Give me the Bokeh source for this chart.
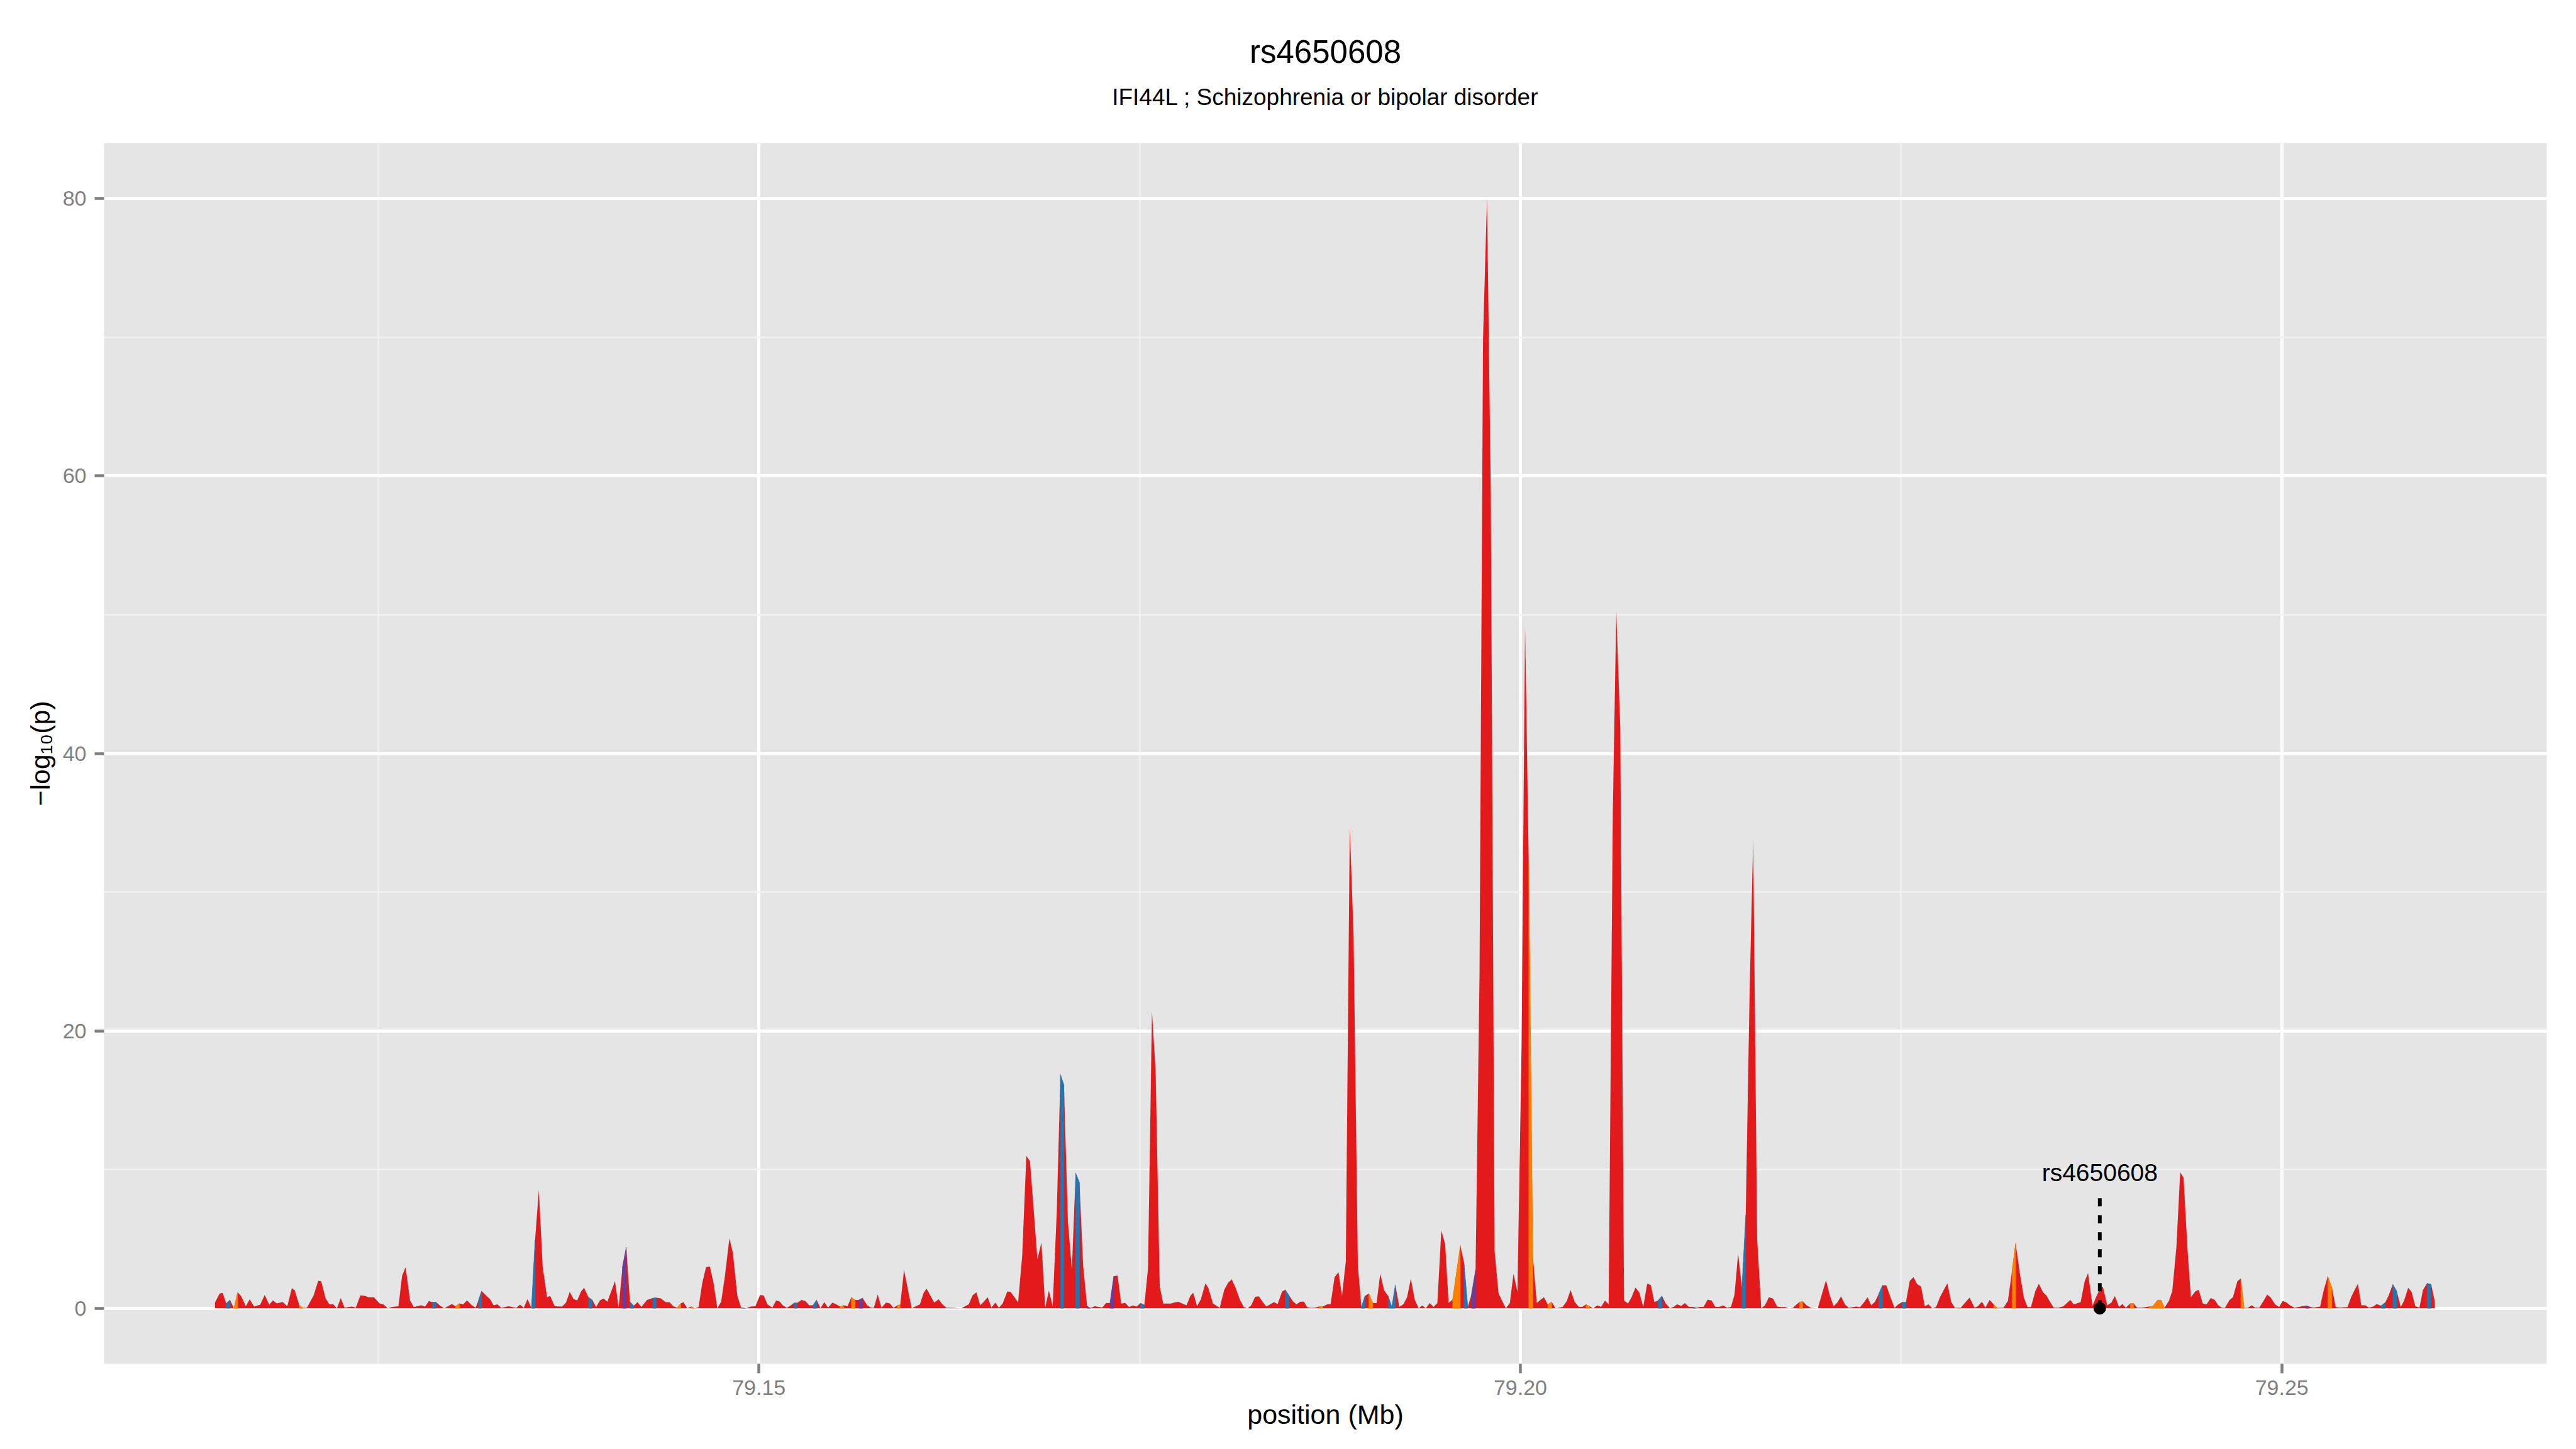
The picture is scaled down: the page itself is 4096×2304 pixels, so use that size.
from bokeh.plotting import figure
from bokeh.models import (Range1d, FixedTicker, Label, ColumnDataSource, PrintfTickFormatter,
                          LinearAxis)
from bokeh.embed import file_html
from bokeh.resources import INLINE

# ---------------- data ----------------
title_text = "rs4650608"
subtitle_text = "IFI44L ; Schizophrenia or bipolar disorder"
x_label = "position (Mb)"
y_label = "\u2212log\u2081\u2080(p)"

x_ticks = [79.15, 79.20, 79.25]
x_minor = [79.125, 79.175, 79.225]
y_ticks = [0, 20, 40, 60, 80]
y_minor = [10, 30, 50, 70]

# SNP positions (Mb)
pos = [
    79.11428, 79.11458, 79.11478, 79.11502, 79.11527, 79.11552, 79.11577, 79.11601, 79.11631, 79.11656,
    79.11685, 79.11725, 79.11755, 79.11784, 79.11809, 79.11834, 79.11873, 79.11903, 79.11933, 79.11952,
    79.11982, 79.12007, 79.12032, 79.12076, 79.12106, 79.12126, 79.12155, 79.12180, 79.12205, 79.12229,
    79.12254, 79.12279, 79.12328, 79.12353, 79.12383, 79.12412, 79.12437, 79.12472, 79.12509, 79.12534,
    79.12563, 79.12588, 79.12633, 79.12657, 79.12680, 79.12709, 79.12734, 79.12783, 79.12808, 79.12833,
    79.12855, 79.12880, 79.12907, 79.12934, 79.12984, 79.13008, 79.13033, 79.13058, 79.13083, 79.13115,
    79.13140, 79.13159, 79.13179, 79.13214, 79.13234, 79.13258, 79.13283, 79.13308, 79.13357, 79.13407,
    79.13431, 79.13456, 79.13481, 79.13506, 79.13530, 79.13555, 79.13580, 79.13609, 79.13629, 79.13659,
    79.13708, 79.13733, 79.13758, 79.13782, 79.13807, 79.13832, 79.13852, 79.13881, 79.13906, 79.13931,
    79.13956, 79.13980, 79.14005, 79.14055, 79.14079, 79.14104, 79.14129, 79.14153, 79.14178, 79.14203,
    79.14228, 79.14265, 79.14302, 79.14327, 79.14356, 79.14388, 79.14413, 79.14438, 79.14463, 79.14487,
    79.14505, 79.14529, 79.14554, 79.14579, 79.14604, 79.14628, 79.14653, 79.14678, 79.14702, 79.14727,
    79.14752, 79.14777, 79.14806, 79.14829, 79.14858, 79.14883, 79.14915, 79.14945, 79.14977, 79.15007,
    79.15031, 79.15056, 79.15088, 79.15113,
    79.15137, 79.15157, 79.15182, 79.15206, 79.15231, 79.15251, 79.15280, 79.15305, 79.15330, 79.15355,
    79.15379, 79.15404, 79.15429, 79.15454, 79.15483, 79.15508, 79.15533, 79.15557, 79.15582, 79.15607,
    79.15632, 79.15656, 79.15681, 79.15711, 79.15735, 79.15755, 79.15780, 79.15805, 79.15834, 79.15859,
    79.15884, 79.15909, 79.15928, 79.15953, 79.16003, 79.16057, 79.16082, 79.16101, 79.16151, 79.16180,
    79.16205, 79.16230, 79.16279, 79.16329, 79.16378, 79.16403, 79.16428, 79.16453, 79.16477, 79.16502,
    79.16527, 79.16552, 79.16576, 79.16601, 79.16631,
    79.16653, 79.16702, 79.16729, 79.16756, 79.16780, 79.16829, 79.16855, 79.16880, 79.16904, 79.16929,
    79.16956, 79.16980, 79.17003, 79.17029, 79.17055, 79.17080, 79.17105, 79.17129, 79.17155, 79.17178,
    79.17205, 79.17255, 79.17280, 79.17305, 79.17330, 79.17355, 79.17379, 79.17405, 79.17431, 79.17455,
    79.17481, 79.17505, 79.17531, 79.17555, 79.17581, 79.17605, 79.17632, 79.17655, 79.17705, 79.17731,
    79.17755, 79.17781,
    79.17808, 79.17833, 79.17852, 79.17877, 79.17902, 79.17932, 79.17951, 79.17981, 79.18026, 79.18055,
    79.18080, 79.18105, 79.18129, 79.18159, 79.18184, 79.18209, 79.18233, 79.18258, 79.18283, 79.18307,
    79.18332, 79.18357, 79.18382, 79.18406, 79.18436, 79.18456, 79.18481, 79.18505, 79.18530, 79.18555,
    79.18579, 79.18599, 79.18624, 79.18650,
    79.18680, 79.18703, 79.18733, 79.18754, 79.18780, 79.18806, 79.18829, 79.18854, 79.18880, 79.18905,
    79.18933, 79.18956, 79.18980, 79.19005, 79.19031, 79.19056, 79.19080, 79.19106, 79.19132, 79.19156,
    79.19179, 79.19205, 79.19232, 79.19256, 79.19281, 79.19306, 79.19332, 79.19356, 79.19379, 79.19405,
    79.19430, 79.19455, 79.19481, 79.19506, 79.19529, 79.19555, 79.19606, 79.19630, 79.19655, 79.19679,
    79.19706, 79.19732, 79.19755, 79.19781, 79.19806, 79.19831, 79.19857, 79.19882, 79.19905, 79.19931,
    79.19955, 79.19981,
    79.20008, 79.20031, 79.20055, 79.20082, 79.20108, 79.20131, 79.20155, 79.20180, 79.20206, 79.20231,
    79.20254, 79.20278, 79.20305, 79.20330, 79.20357, 79.20384, 79.20407, 79.20431, 79.20454, 79.20478,
    79.20505, 79.20530, 79.20556, 79.20580, 79.20607, 79.20630, 79.20656, 79.20681, 79.20707, 79.20730,
    79.20756, 79.20781, 79.20807, 79.20833, 79.20857, 79.20880, 79.20904, 79.20930, 79.20954, 79.20983,
    79.21006, 79.21030, 79.21056, 79.21080, 79.21107, 79.21132, 79.21156, 79.21179, 79.21203, 79.21230,
    79.21256, 79.21280, 79.21306, 79.21332, 79.21359, 79.21383, 79.21406, 79.21430, 79.21455, 79.21480,
    79.21506, 79.21529, 79.21555, 79.21582, 79.21606, 79.21632, 79.21659,
    79.21686, 79.21711, 79.21735, 79.21765, 79.21790, 79.21814, 79.21834, 79.21854, 79.21879, 79.21908,
    79.21953, 79.21978, 79.22007, 79.22032, 79.22057, 79.22081, 79.22106, 79.22131, 79.22156, 79.22205,
    79.22230, 79.22255, 79.22280, 79.22304, 79.22329, 79.22354, 79.22378, 79.22403, 79.22428, 79.22457,
    79.22482, 79.22507, 79.22532, 79.22557, 79.22581, 79.22606, 79.22631, 79.22656, 79.22680, 79.22705,
    79.22730, 79.22755, 79.22780, 79.22804, 79.22829, 79.22853, 79.22872,
    79.22892, 79.22919, 79.22950, 79.22982, 79.23004, 79.23031, 79.23054, 79.23081, 79.23108, 79.23130,
    79.23173, 79.23202, 79.23229, 79.23252, 79.23279, 79.23306, 79.23330, 79.23353, 79.23382, 79.23405,
    79.23432, 79.23454, 79.23481, 79.23503, 79.23533, 79.23566, 79.23611, 79.23634, 79.23679, 79.23706,
    79.23728, 79.23757, 79.23780, 79.23802, 79.23825, 79.23854, 79.23881, 79.23904, 79.23931, 79.23953,
    79.23976, 79.24005, 79.24027, 79.24050, 79.24083, 79.24128, 79.24151, 79.24185, 79.24207, 79.24230,
    79.24259, 79.24281, 79.24308, 79.24333, 79.24355, 79.24380, 79.24403, 79.24432, 79.24454, 79.24481,
    79.24506, 79.24533, 79.24560, 79.24583, 79.24605, 79.24627, 79.24657, 79.24679, 79.24708, 79.24731,
    79.24753, 79.24776, 79.24803, 79.24825, 79.24852, 79.24881, 79.24904, 79.24926, 79.24956, 79.24983,
    79.25005, 79.25028, 79.25055, 79.25084, 79.25106, 79.25135, 79.25158, 79.25180, 79.25207, 79.25252,
    79.25275, 79.25302, 79.25329, 79.25354, 79.25383, 79.25432, 79.25455, 79.25477, 79.25500, 79.25522,
    79.25549, 79.25572, 79.25601, 79.25623, 79.25652, 79.25679, 79.25702, 79.25729, 79.25756, 79.25781,
    79.25803, 79.25830, 79.25852, 79.25877, 79.25904, 79.25927, 79.25954, 79.25981, 79.26005,
]

# -log10(p) for each SNP
logp = [
    0.41, 1.06, 1.12, 0.35, 0.60, 0.00, 1.16, 0.86, 0.15, 0.65,
    0.13, 0.26, 0.97, 0.26, 0.57, 0.35, 0.45, 0.15, 1.45, 1.29,
    0.22, 0.03, 0.05, 0.93, 1.99, 1.94, 0.70, 0.28, 0.28, 0.00,
    0.74, 0.05, 0.13, 0.05, 0.93, 0.90, 0.80, 0.80, 0.35, 0.28,
    0.00, 0.09, 0.15, 2.35, 2.97, 0.57, 0.09, 0.22, 0.13, 0.52,
    0.44, 0.44, 0.18, 0.00, 0.31, 0.15, 0.35, 0.28, 0.57, 0.22,
    0.05, 0.60, 1.25, 0.86, 0.67, 0.22, 0.28, 0.03, 0.15, 0.03,
    0.26, 0.03, 0.67, 0.00, 4.93, 8.54, 2.99, 0.80, 0.90, 0.15,
    0.13, 0.41, 1.19, 0.67, 0.57, 1.21, 1.48, 0.80, 0.60, 0.09,
    0.57, 0.70, 0.48, 1.96, 0.05, 2.99, 4.41, 0.48, 0.18, 0.44,
    0.09, 0.60, 0.74, 0.76, 0.72, 0.44, 0.44, 0.15, 0.05, 0.35,
    0.44, 0.00, 0.13, 0.00, 0.09, 1.83, 2.97, 3.02, 1.83, 0.00,
    0.48, 2.35, 5.03, 4.00, 0.93, 0.05, 0.00, 0.13, 0.15, 0.95,
    0.93, 0.28, 0.05, 0.57,
    0.48, 0.22, 0.03, 0.18, 0.39, 0.39, 0.60, 0.52, 0.22, 0.22,
    0.60, 0.00, 0.44, 0.05, 0.41, 0.28, 0.13, 0.22, 0.15, 0.80,
    0.60, 0.60, 0.74, 0.22, 0.05, 0.05, 1.00, 0.03, 0.41, 0.35,
    0.03, 0.22, 0.26, 2.76, 0.00, 0.28, 1.12, 1.42, 0.41, 0.65,
    0.28, 0.05, 0.03, 0.00, 0.28, 0.93, 1.16, 0.22, 0.48, 0.80,
    0.05, 0.41, 0.03, 0.35, 1.21,
    1.18, 0.43, 3.80, 10.98, 10.60, 3.53, 4.75, 0.06, 1.28, 0.15,
    7.00, 16.85, 16.10, 6.25, 2.78, 9.76, 9.06, 3.06, 0.15, 0.02,
    0.15, 0.06, 0.39, 0.37, 2.31, 2.36, 0.34, 0.39, 0.09, 0.21,
    0.13, 0.37, 0.24, 2.87, 21.40, 17.10, 1.56, 0.34, 0.34, 0.43,
    0.47, 0.34,
    0.22, 0.90, 1.12, 0.15, 0.65, 1.80, 1.47, 0.35, 0.03, 1.32,
    1.83, 2.09, 1.51, 0.60, 0.09, 0.00, 0.22, 0.83, 0.86, 0.48,
    0.13, 0.28, 0.44, 0.31, 1.21, 1.34, 0.93, 0.52, 0.28, 0.48,
    0.48, 0.09, 0.03, 0.05,
    0.13, 0.13, 0.30, 0.30, 2.24, 2.60, 0.90, 3.40, 34.75, 26.80,
    3.10, 0.10, 0.90, 1.07, 0.37, 0.37, 2.50, 1.28, 0.90, 0.10,
    1.70, 0.10, 0.30, 0.80, 2.13, 0.64, 0.00, 0.20, 0.00, 0.37,
    0.10, 0.37, 5.60, 4.64, 0.37, 0.64, 4.53, 3.30, 0.10, 1.00,
    2.77, 24.10, 69.90, 80.00, 58.70, 4.10, 1.07, 0.50, 0.00, 0.37,
    2.50, 1.18,
    18.90, 49.20, 32.10, 3.76, 0.38, 0.60, 0.80, 0.28, 0.45, 0.00,
    0.05, 0.10, 0.52, 1.32, 0.45, 0.10, 0.10, 0.28, 0.15, 0.00,
    0.21, 0.10, 0.56, 0.28, 35.60, 50.20, 41.90, 0.56, 0.35, 0.80,
    1.50, 1.15, 0.10, 1.78, 1.67, 0.45, 0.56, 0.90, 0.35, 0.00,
    0.10, 0.28, 0.17, 0.38, 0.10, 0.10, 0.03, 0.10, 0.10, 0.63,
    0.56, 0.10, 0.10, 0.21, 0.03, 0.10, 0.97, 3.93, 1.50, 6.72,
    23.10, 33.80, 4.98, 0.00, 0.21, 0.80, 0.70,
    0.13, 0.09, 0.09, 0.00, 0.03, 0.28, 0.45, 0.50, 0.22, 0.03,
    0.00, 0.93, 2.03, 0.93, 0.15, 0.41, 0.86, 0.28, 0.03, 0.13,
    0.08, 0.41, 0.80, 0.22, 0.48, 1.06, 1.66, 1.66, 0.86, 0.03,
    0.28, 0.44, 0.44, 1.96, 2.25, 1.73, 1.58, 0.15, 0.28, 0.00,
    0.09, 0.80, 1.32, 1.80, 0.48, 0.03, 0.05,
    0.03, 0.39, 0.77, 0.05, 0.15, 0.48, 0.05, 0.60, 0.28, 0.03,
    0.05, 0.54, 2.73, 4.70, 2.60, 0.80, 0.09, 0.09, 1.25, 1.77,
    1.16, 0.93, 0.41, 0.05, 0.05, 0.15, 0.60, 0.28, 0.44, 1.96,
    2.54, 0.18, 0.80, 1.32, 1.57, 0.22, 0.41, 0.89, 0.09, 0.31,
    0.03, 0.35, 0.35, 0.05, 0.05, 0.13, 0.13, 0.60, 0.60, 0.03,
    0.54, 1.25, 4.41, 9.81, 9.42, 4.41, 0.80, 1.21, 1.34, 0.35,
    0.28, 0.74, 0.60, 0.22, 0.05, 0.03, 0.60, 0.80, 1.94, 2.15,
    0.03, 0.03, 0.22, 0.05, 0.05, 0.54, 0.99, 0.80, 0.28, 0.09,
    0.52, 0.44, 0.22, 0.03, 0.09, 0.15, 0.18, 0.13, 0.05, 0.13,
    1.29, 2.32, 1.51, 0.09, 0.05, 0.09, 0.80, 1.29, 1.77, 0.22,
    0.22, 0.05, 0.13, 0.31, 0.18, 0.41, 0.93, 1.73, 1.20, 0.09,
    0.54, 1.47, 1.19, 0.15, 0.05, 1.32, 1.80, 1.73, 0.48,
]

# SNPs whose following interval is coloured by another group (default group: red)
group_blue = [79.11502, 79.12855, 79.13159, 79.13506, 79.13881, 79.14153, 79.14302, 79.14883,
              79.15231, 79.15355, 79.16980, 79.17080, 79.17505, 79.18456, 79.18956, 79.19132,
              79.19156, 79.19630, 79.20904, 79.21132, 79.21455, 79.22354, 79.22507, 79.25652,
              79.25729, 79.25954]
group_orange = [79.11552, 79.11982, 79.13008, 79.14463, 79.14554, 79.15533, 79.15607, 79.15909,
                79.18680, 79.19005, 79.19555, 79.20055, 79.20180, 79.20431, 79.21834, 79.22872,
                79.23108, 79.23229, 79.24005, 79.24128, 79.24151, 79.24185, 79.24207, 79.24731,
                79.25302]
group_purple = [79.14104, 79.15656, 79.17155, 79.17305, 79.19679, 79.25158]

hit_name = "rs4650608"
hit_pos = 79.23805
hit_logp = 0.0
hit_line_top = 8.0
hit_label_y = 9.8

assert len(pos) == len(logp), (len(pos), len(logp))

RED, BLUE, ORANGE, PURPLE = "#E31A1C", "#1F78B4", "#FF7F00", "#6A3D9A"
FONT = "Liberation Sans"
GREY = "#7F7F7F"

W, H = 4096, 2304
p = figure(width=W, height=H, output_backend="svg", toolbar_location=None,
           x_range=Range1d(79.10700, 79.26740), y_range=Range1d(-4, 84),
           min_border_left=165, min_border_right=47, min_border_top=227, min_border_bottom=136)
p.background_fill_color = "#E5E5E5"
p.border_fill_color = "white"
p.outline_line_color = None

xt = FixedTicker(ticks=x_ticks, minor_ticks=x_minor)
yt = FixedTicker(ticks=y_ticks, minor_ticks=y_minor)
p.xaxis.ticker = xt
p.xgrid.ticker = xt
p.yaxis.ticker = yt
p.ygrid.ticker = yt
p.xaxis.formatter = PrintfTickFormatter(format="%.2f")

for g in (p.xgrid, p.ygrid):
    g.grid_line_color = "white"
    g.grid_line_width = 4.9
    g.minor_grid_line_color = "#F2F2F2"
    g.minor_grid_line_width = 2.4

for ax in (p.xaxis, p.yaxis):
    ax.axis_line_color = None
    ax.major_tick_line_color = GREY
    ax.major_tick_line_width = 4.5
    ax.major_tick_in = 0
    ax.major_tick_out = 15
    ax.minor_tick_line_color = None
    ax.major_label_text_font = FONT
    ax.major_label_text_font_size = "34px"
    ax.major_label_text_color = GREY
    ax.axis_label_text_font = FONT
    ax.axis_label_text_font_size = "43px"
    ax.axis_label_text_font_style = "normal"
    ax.axis_label_text_color = "black"

p.xaxis.axis_label = x_label
p.yaxis.axis_label = y_label
p.xaxis.major_label_standoff = 11
p.xaxis.axis_label_standoff = 4
p.yaxis.major_label_standoff = 13
p.yaxis.axis_label_standoff = 9

# subtitle as an (otherwise empty) axis label above the panel
sub_axis = LinearAxis(ticker=FixedTicker(ticks=[]), axis_label=subtitle_text,
                      axis_line_color=None, major_tick_line_color=None,
                      minor_tick_line_color=None, major_tick_in=0, major_tick_out=0,
                      minor_tick_in=0, minor_tick_out=0, major_label_standoff=0,
                      major_label_text_font_size="0px",
                      axis_label_standoff=53, axis_label_text_font=FONT,
                      axis_label_text_font_size="37px", axis_label_text_font_style="normal",
                      axis_label_text_color="black")
p.add_layout(sub_axis, "above")

# main title
p.title.text = title_text
p.title.align = "center"
p.title.text_font = FONT
p.title.text_font_size = "51px"
p.title.text_font_style = "normal"
p.title.text_color = "black"
p.title.standoff = 39

# main area
p.varea(x=pos, y1=0, y2=logp, fill_color=RED, fill_alpha=1.0)

# coloured intervals
gmap = {}
for v in group_blue:
    gmap[round(v, 5)] = BLUE
for v in group_orange:
    gmap[round(v, 5)] = ORANGE
for v in group_purple:
    gmap[round(v, 5)] = PURPLE
xs, ys, cols = [], [], []
for i in range(len(pos) - 1):
    c = gmap.get(round(pos[i], 5))
    if c:
        xs.append([pos[i], pos[i + 1], pos[i + 1], pos[i]])
        ys.append([logp[i], logp[i + 1], 0, 0])
        cols.append(c)
src = ColumnDataSource(dict(xs=xs, ys=ys, color=cols))
p.patches("xs", "ys", source=src, fill_color="color", line_color="color", line_width=0.5)

# highlighted SNP
p.segment(x0=[hit_pos], y0=[hit_logp], x1=[hit_pos], y1=[hit_line_top],
          line_color="black", line_width=6, line_dash="13 14")
p.scatter(x=[hit_pos], y=[hit_logp], size=19, fill_color="black", line_color="black")
p.add_layout(Label(x=hit_pos, y=hit_label_y, text=hit_name, text_align="center",
                   text_baseline="alphabetic", text_font=FONT, text_font_size="39px",
                   text_color="black"))

open("out.html", "w").write(file_html(p, INLINE))
